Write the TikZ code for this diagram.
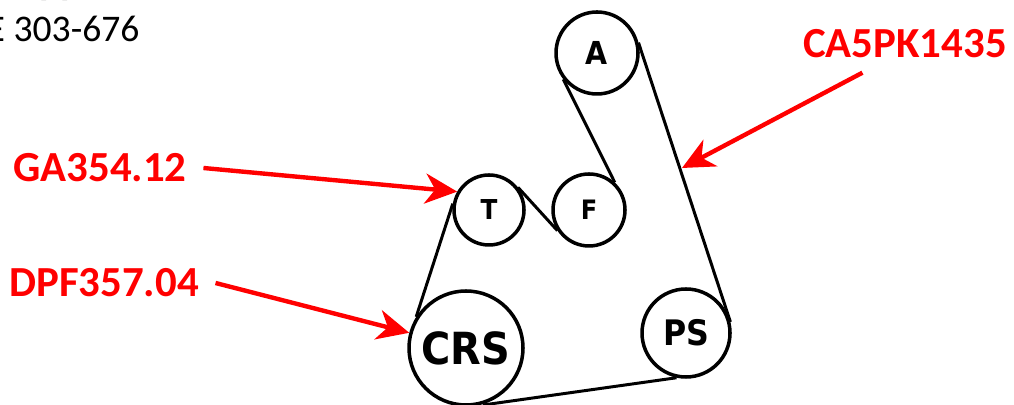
\documentclass[tikz,border=0pt]{standalone}
\usepackage{fontspec}
\setmainfont{Carlito}
\newfontfamily\pulleyfont[FakeStretch=0.9]{DejaVu Sans}
\usetikzlibrary{arrows.meta}
\definecolor{partred}{rgb}{1,0,0}

\tikzset{
  pulley/.style={draw,circle,line width=1pt,inner sep=0pt},
  belt/.style={line width=0.85pt},
  partlabel/.style={text=partred,font=\fontsize{12.2}{14}\selectfont\bfseries,inner xsep=0.16cm,inner ysep=0pt,minimum height=0.56cm},
  partarrow/.style={-{Stealth[length=0.32cm,width=0.3cm,inset=0.1cm]},line width=1.25pt,partred}
}

\begin{document}
\begin{tikzpicture}

\useasboundingbox (0,0) rectangle (10.14,4.05);

% pulleys
\node [pulley,minimum size=0.82cm,font=\pulleyfont\bfseries\fontsize{9}{9}\selectfont] (A) at (5.97,3.52) {A};
\node [pulley,minimum size=0.70cm,font=\pulleyfont\bfseries\fontsize{7.8}{8}\selectfont] (T) at (4.89,1.95) {T};
\node [pulley,minimum size=0.72cm,font=\pulleyfont\bfseries\fontsize{7.6}{8}\selectfont] (F) at (5.89,1.95) {F};
\node [pulley,minimum size=1.14cm,font=\pulleyfont\bfseries\fontsize{12.6}{13}\selectfont] (CRS) at (4.66,0.57) {CRS};
\node [pulley,minimum size=0.88cm,font=\pulleyfont\bfseries\fontsize{10}{10}\selectfont] (PS) at (6.86,0.72) {PS};

% belt
\coordinate (beltend) at (4.83,0.00);
\draw [belt] (A.14) -- (PS.14);
\draw [belt] (A.218) -- (F.47);
\draw [belt] (F.213) -- (T.38);
\draw [belt] (T.170) -- (CRS.148);
\draw [belt] (beltend) -- (PS.258);

% part numbers
\node [partlabel] (GA) at (1.00,2.37) {GA354.12};
\node [partlabel] (DPF) at (1.04,1.22) {DPF357.04};
\node [partlabel] (CA) at (9.05,3.61) {CA5PK1435};
\coordinate (beltpoint) at (6.82,2.37);

\draw [partarrow] (GA.east) -- (T.150);
\draw [partarrow] (DPF.east) -- (CRS.165);
\draw [partarrow] (CA.214) -- (beltpoint);

% some text, cut off by the page
\node [anchor=base west,inner sep=0pt,font=\fontsize{10.7}{12}\selectfont] (phone) at (-0.14,3.63) {E 303-676};
\node [anchor=base west,inner sep=0pt,font=\fontsize{11}{12}\selectfont\bfseries] (head) at (0.39,4.10) {pp};

\end{tikzpicture}
\end{document}
